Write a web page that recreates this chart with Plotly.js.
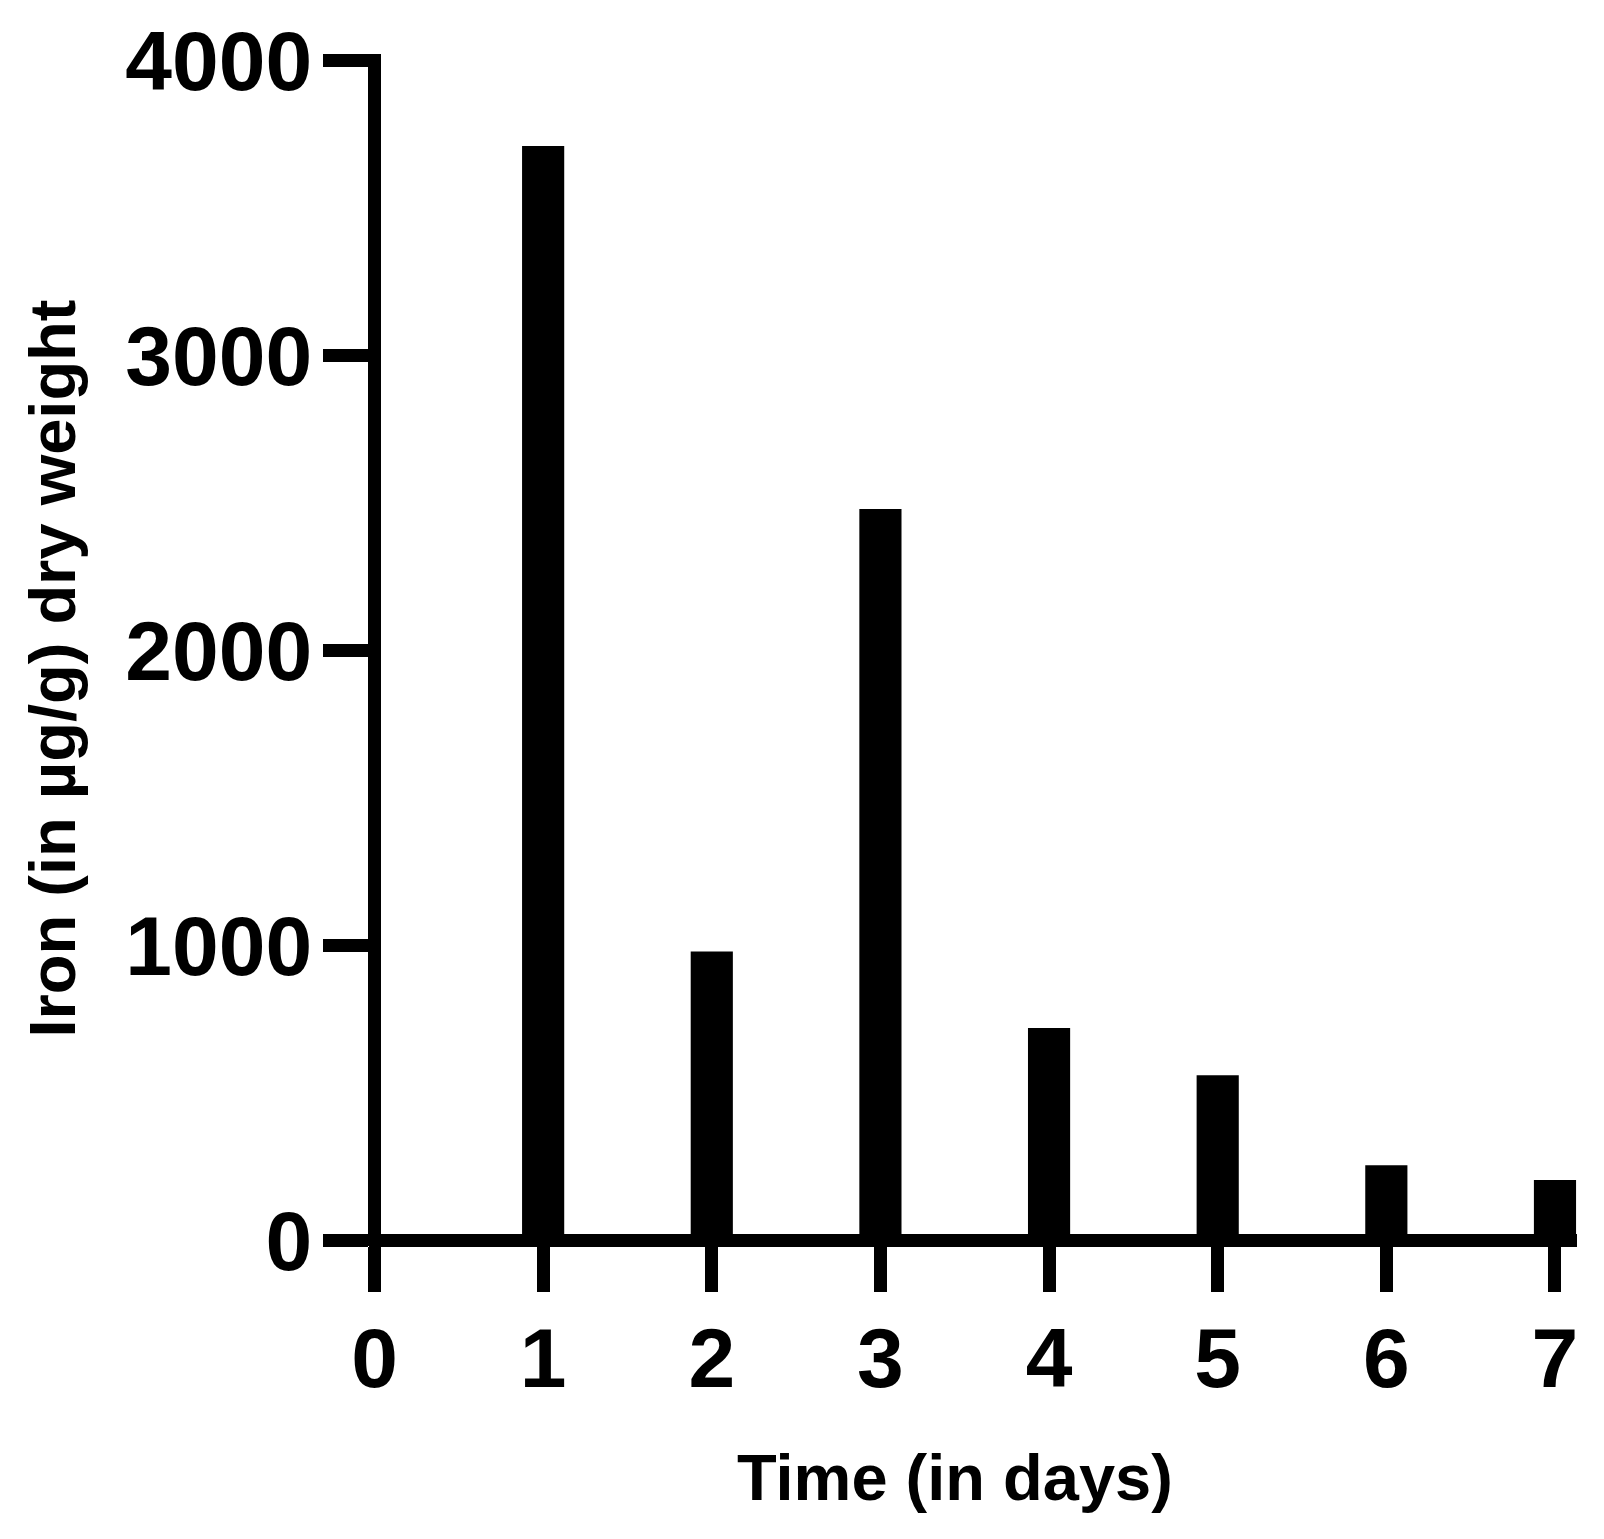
<!DOCTYPE html>
<html>
<head>
<meta charset="utf-8">
<script src="https://cdn.plot.ly/plotly-3.0.1.min.js"></script>
<style>
  html, body { margin: 0; padding: 0; background: #fff; }
  #chart { width: 1604px; height: 1539px; }
</style>
</head>
<body>
<div id="chart"></div>
<script>
// 铁含量随时间变化（柱状图）
const days = [1, 2, 3, 4, 5, 6, 7];
const ironValues = [3710, 980, 2480, 720, 560, 255, 205];

const xTickVals = [0, 1, 2, 3, 4, 5, 6, 7];
const yTickVals = [0, 1000, 2000, 3000, 4000];

const xTitle = "Time (in days)";
const yTitle = "Iron (in µg/g) dry weight";

const FONT = "'Liberation Sans', Arial, Helvetica, sans-serif";
const AXIS_W = 13;

// 轴线用 zeroline 画，刚好压在 x=0 / y=0 上，刻度与之相接
const axisBase = {
  tickmode: "array",
  ticks: "outside",
  ticklen: 45,
  tickwidth: AXIS_W,
  tickcolor: "#000000",
  tickfont: { family: FONT, size: 84, weight: "bold", color: "#000000" },
  showgrid: false,
  showline: false,
  zeroline: true,
  zerolinecolor: "#000000",
  zerolinewidth: AXIS_W,
  fixedrange: true,
};

const trace = {
  x: days,
  y: ironValues,
  type: "bar",
  width: 0.25,
  marker: { color: "#000000", line: { width: 0 } },
  hoverinfo: "x+y",
};

const titleFont = { family: FONT, size: 65, weight: "bold", color: "#000000" };

const layout = {
  width: 1604,
  height: 1539,
  margin: { t: 54, r: 27, b: 293, l: 369 },
  paper_bgcolor: "#ffffff",
  plot_bgcolor: "#ffffff",
  showlegend: false,
  font: { family: FONT, color: "#000000" },
  xaxis: {
    ...axisBase,
    range: [-0.0326, 7.1306],
    tickvals: xTickVals,
    ticklabelstandoff: -6,
  },
  yaxis: {
    ...axisBase,
    range: [-18.64, 4022],
    tickvals: yTickVals,
    ticklabelstandoff: -6,
  },
  annotations: [
    {
      text: xTitle,
      xref: "paper",
      yref: "paper",
      x: 0.4847,
      y: -0.1946,
      xanchor: "center",
      yanchor: "middle",
      showarrow: false,
      font: titleFont,
    },
    {
      text: yTitle,
      xref: "paper",
      yref: "paper",
      x: -0.2624,
      y: 0.4845,
      xanchor: "center",
      yanchor: "middle",
      textangle: -90,
      showarrow: false,
      font: titleFont,
    },
  ],
};

Plotly.newPlot("chart", [trace], layout, { displayModeBar: false, staticPlot: true });
</script>
</body>
</html>
